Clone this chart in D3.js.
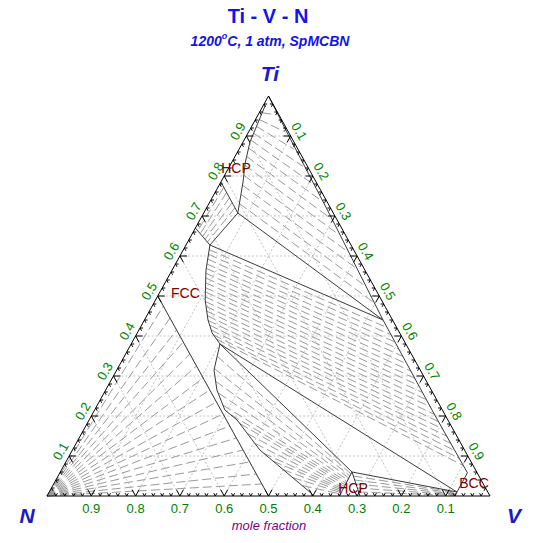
<!DOCTYPE html>
<html><head><meta charset="utf-8">
<script src="https://cdn.jsdelivr.net/npm/d3@7"></script>
<style>body{margin:0;background:#fff}svg{display:block}</style>
</head><body>
<svg id="chart" width="537" height="543"></svg>
<script>
// ---------- data (compositions as [Ti, V]; N = 1 - Ti - V) ----------
const title = "Ti - V - N";
const subtitleMain = "1200";
const subtitleRest = "C, 1 atm, SpMCBN";
const cornerLabels = ["Ti", "N", "V"];
const axisTitle = "mole fraction";
const majorTicks = [0.1,0.2,0.3,0.4,0.5,0.6,0.7,0.8,0.9];
const minorTicks = [0.02,0.04,0.06,0.08,0.12,0.14,0.16,0.18,0.22,0.24,0.26,0.28,0.32,0.34,0.36,0.38,0.42,0.44,0.46,0.48,0.52,0.54,0.56,0.58,0.62,0.64,0.66,0.68,0.72,0.74,0.76,0.78,0.82,0.84,0.86,0.88,0.92,0.94,0.96,0.98];
const tickLabels = ["0.1","0.2","0.3","0.4","0.5","0.6","0.7","0.8","0.9"];

// phase boundaries
const hcpBoundary = [[0.98,0],[0.975,0.0046],[0.885,0.0157],[0.8325,0.031],[0.785,0.050],[0.7075,0.077]];
const bccBoundary = [[1,0],[0.9,0.096],[0.7,0.29],[0.44,0.5385],[0.2,0.7765],[0.058,0.92],[0.01,0.9205],[0,0.921]];
const hcpFccHcpSide = [[0.785,0],[0.7075,0.077]];
const hcpFccFccSide = [[0.67,0],[0.6275,0.054]];
const fccBccFccSide = [[0.6275,0.054],[0.565,0.0764],[0.49,0.112],[0.44,0.1434],[0.4075,0.169],[0.38,0.2005]];
const fccV2nFccSide = [[0.38,0.2005],[0.315,0.2195],[0.265,0.251],[0.215,0.294],[0.19,0.334],[0.115,0.423],[0.005,0.596],[0,0.598]];
const fccGasLine = [[0.5,0],[0,0.5]];
const v2nLeft = [[0.06,0.6585],[0,0.66]];
const v2nRight = [[0.06,0.6585],[0,0.7065]];
const triangleUpper = [[0.7075,0.077],[0.6275,0.054],[0.44,0.5385]];
const triangleLower = [[0.38,0.2005],[0.06,0.6585],[0.01,0.9205]];

// tie-lines [Ti1, V1, Ti2, V2]
const gasTieTi = [0.475,0.445,0.415,0.385,0.355,0.325,0.295,0.265,0.235,0.205,0.175,0.145,0.115,0.085,0.055,0.03];
const fccBccTies = [
 [.616,.058,.421,.557],[.604,.063,.403,.575],[.592,.067,.385,.593],[.580,.071,.367,.611],
 [.569,.075,.349,.629],[.557,.080,.330,.648],[.545,.086,.312,.666],[.533,.092,.294,.684],
 [.521,.097,.276,.702],[.510,.103,.258,.720],[.498,.108,.240,.738],[.486,.115,.222,.756],
 [.474,.122,.203,.775],[.462,.130,.185,.793],[.451,.136,.167,.811],[.439,.144,.149,.829],
 [.427,.154,.131,.847],[.415,.163,.113,.865],[.403,.174,.094,.884],[.392,.187,.076,.902]];
const hcpBccTies = [
 [.958,.007,.953,.041],[.941,.009,.910,.083],[.924,.011,.867,.124],[.907,.013,.824,.166],
 [.890,.015,.782,.207],[.870,.020,.739,.249],[.849,.026,.696,.290],[.827,.033,.654,.331],
 [.802,.043,.611,.373],[.777,.053,.569,.414],[.754,.061,.525,.456],[.731,.069,.483,.497]];
const hcpFccTies = [
 [.772,.013,.663,.009],[.759,.026,.656,.018],[.746,.039,.649,.027],[.733,.051,.642,.036],[.720,.064,.635,.045]];
const fccV2nTies = [
 [.349,.210,.055,.659],[.319,.218,.050,.659],[.287,.237,.045,.659],[.257,.259,.040,.659],
 [.227,.284,.036,.659],[.203,.314,.032,.659],[.181,.345,.028,.659],[.156,.375,.024,.659],
 [.131,.405,.020,.660],[.107,.435,.017,.660],[.087,.467,.014,.660],[.066,.500,.011,.660],
 [.046,.532,.008,.660],[.026,.564,.005,.660]];
const v2nBccTies = [
 [.05,.6665,.009,.921],[.04,.6745,.007,.921],[.03,.6825,.005,.921],[.02,.6905,.003,.921],[.01,.6985,.0015,.921]];

const phaseLabels = [
 {text:"HCP", ti:0.82, v:0.0166},
 {text:"FCC", ti:0.5075, v:0.0586},
 {text:"HCP", ti:0.02, v:0.6807},
 {text:"BCC", ti:0.0325, v:0.9476}];

// ---------- drawing ----------
const svg = d3.select("#chart");
const X = d3.scaleLinear().domain([0,1]).range([47,490]);
const Y = d3.scaleLinear().domain([0,1]).range([496,96]);
const P = (ti, v) => [X(v + ti/2), Y(ti)];
const line = d3.line().x(d => P(d[0],d[1])[0]).y(d => P(d[0],d[1])[1]);

// grid
const grid = svg.append("g").attr("stroke","#c4c4c4").attr("stroke-width",1).attr("stroke-dasharray","2,2").attr("fill","none");
majorTicks.forEach(g => {
  grid.append("path").attr("d", line([[g,0],[g,1-g]]));
  grid.append("path").attr("d", line([[0,g],[1-g,g]]));
  grid.append("path").attr("d", line([[1-g,0],[0,1-g]]));
});

// tie-lines
const ties = svg.append("g").attr("stroke","#9a9a9a").attr("stroke-width",1).attr("stroke-dasharray","9,4").attr("fill","none");
gasTieTi.forEach(t => ties.append("path").attr("d", line([[0,0],[t,0.5-t]])));
[fccBccTies, hcpBccTies, hcpFccTies, fccV2nTies, v2nBccTies].forEach(set =>
  set.forEach(d => ties.append("path").attr("d", line([[d[0],d[1]],[d[2],d[3]]]))));

// phase boundaries
const pb = svg.append("g").attr("stroke","#3a3a3a").attr("stroke-width",1).attr("fill","none");
[hcpBoundary,bccBoundary,hcpFccHcpSide,hcpFccFccSide,fccBccFccSide,fccV2nFccSide,fccGasLine,v2nLeft,v2nRight].forEach(b =>
  pb.append("path").attr("d", line(b)));
[triangleUpper, triangleLower].forEach(t => pb.append("path").attr("d", line(t) + "Z"));

// triangle frame
svg.append("path").attr("d", line([[1,0],[0,0],[0,1]]) + "Z").attr("fill","none").attr("stroke","#000").attr("stroke-width",1);

// ticks
const tk = svg.append("g").attr("stroke","#000").attr("stroke-width",1).attr("fill","none");
function tickAt(g, L) {
  tk.append("path").attr("d", line([[g,L],[g,0],[g-L,L]]));          // left edge (Ti)
  tk.append("path").attr("d", line([[L,g],[0,g],[L,g-L]]));          // bottom edge (N)
  tk.append("path").attr("d", line([[1-g-L,g],[1-g,g],[1-g,g-L]]));  // right edge (V)
}
majorTicks.forEach(g => tickAt(g, 0.016));
minorTicks.forEach(g => tickAt(g, 0.007));

// tick labels
const tl = svg.append("g").attr("font-family","Liberation Sans, Arial, sans-serif").attr("font-size",13).attr("fill","#008000");
majorTicks.forEach((g,i) => {
  const pb0 = P(0, g);
  tl.append("text").attr("x", pb0[0]).attr("y", 513).attr("text-anchor","middle").text(tickLabels[8-i]);
  const pl = P(g, 0);
  tl.append("text").attr("transform", `translate(${pl[0]-8.6},${pl[1]-4.8}) rotate(-60)`)
    .attr("text-anchor","middle").attr("dy","0.35em").text(tickLabels[i]);
  const pr = P(1-g, g);
  tl.append("text").attr("transform", `translate(${pr[0]+8.6},${pr[1]-4.8}) rotate(60)`)
    .attr("text-anchor","middle").attr("dy","0.35em").text(tickLabels[i]);
});

// phase labels
const pl = svg.append("g").attr("font-family","Liberation Sans, Arial, sans-serif").attr("font-size",14).attr("fill","#800000");
phaseLabels.forEach(d => {
  const p = P(d.ti, d.v);
  pl.append("text").attr("x", p[0]).attr("y", p[1]).attr("text-anchor","middle").attr("dy","0.35em").text(d.text);
});

// titles
svg.append("text").attr("x",268).attr("y",23).attr("text-anchor","middle")
  .attr("font-family","Liberation Sans, Arial, sans-serif").attr("font-weight","bold").attr("font-size",20)
  .attr("fill","#1414e6").text(title);
const sub = svg.append("text").attr("x",270).attr("y",46).attr("text-anchor","middle")
  .attr("font-family","Liberation Sans, Arial, sans-serif").attr("font-weight","bold").attr("font-style","italic").attr("font-size",14)
  .attr("fill","#1414e6");
sub.append("tspan").text(subtitleMain);
sub.append("tspan").attr("dy",-7).attr("font-size",9).text("o");
sub.append("tspan").attr("dy",7).text(subtitleRest);

const cl = svg.append("g").attr("font-family","Liberation Sans, Arial, sans-serif").attr("font-weight","bold").attr("font-style","italic").attr("font-size",21).attr("fill","#1a1ac8");
cl.append("text").attr("x",270).attr("y",81).attr("text-anchor","middle").text(cornerLabels[0]);
cl.append("text").attr("x",27).attr("y",523).attr("text-anchor","middle").text(cornerLabels[1]);
cl.append("text").attr("x",514).attr("y",523).attr("text-anchor","middle").text(cornerLabels[2]);

svg.append("text").attr("x",269).attr("y",530).attr("text-anchor","middle")
  .attr("font-family","Liberation Sans, Arial, sans-serif").attr("font-style","italic").attr("font-size",13)
  .attr("fill","#800080").text(axisTitle);
</script>
</body></html>
